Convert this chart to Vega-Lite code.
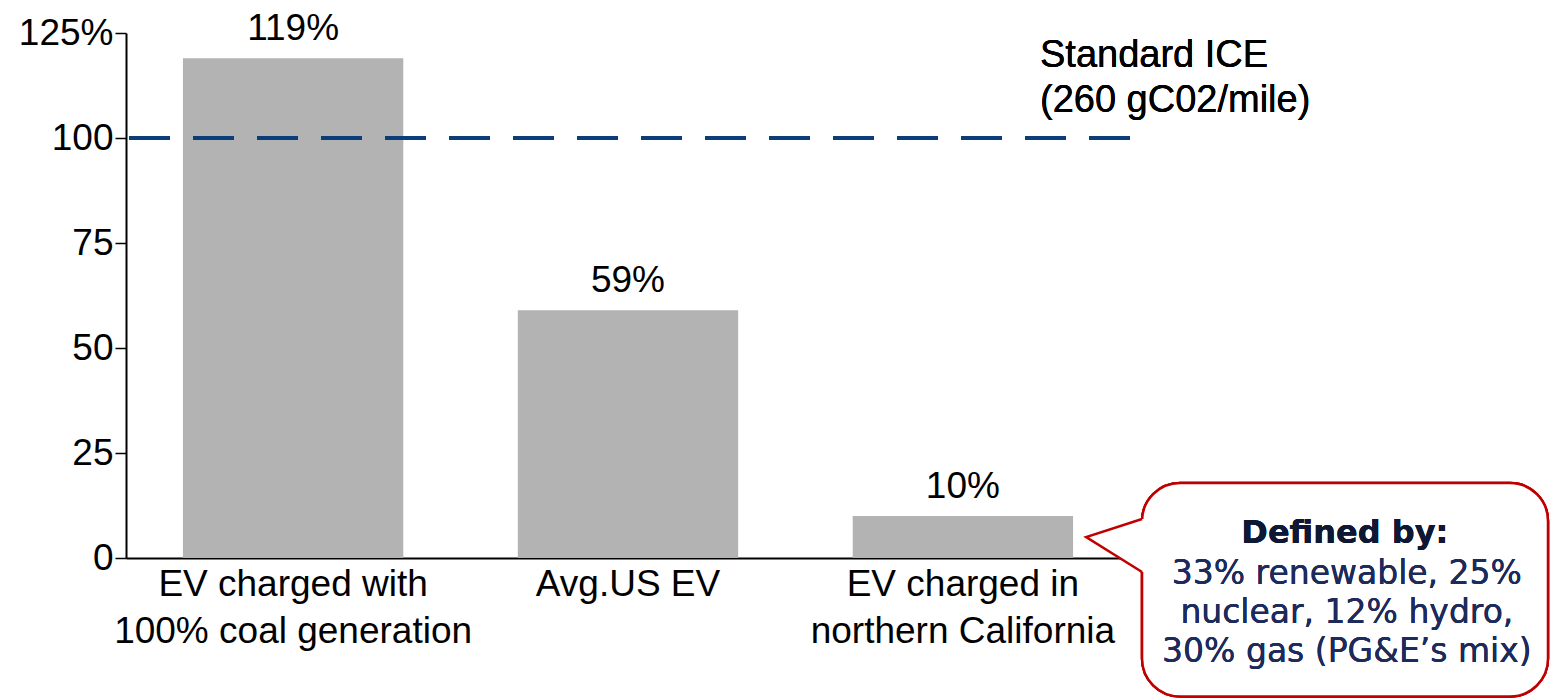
{
  "$schema": "https://vega.github.io/schema/vega-lite/v6.json",
  "width": 1004,
  "height": 525,
  "autosize": {"type": "none"},
  "padding": {"left": 126, "top": 33, "right": 421, "bottom": 141},
  "background": "white",
  "config": {"view": {"stroke": null}, "font": "Liberation Sans"},
  "data": {
    "values": [
      {"category": "EV charged with|100% coal generation", "value": 119, "label": "119%"},
      {"category": "Avg.US EV", "value": 59, "label": "59%"},
      {"category": "EV charged in|northern California", "value": 10, "label": "10%"}
    ]
  },
  "layer": [
    {
      "encoding": {
        "x": {
          "field": "category", "type": "nominal", "sort": null,
          "scale": {"paddingInner": 0.342, "paddingOuter": 0.17},
          "axis": {
            "title": null, "labelExpr": "split(datum.label, '|')", "labelAngle": 0,
            "labelFontSize": 37, "labelLineHeight": 47, "labelColor": "black",
            "labelFont": "Liberation Sans", "labelPadding": 8, "ticks": false, "labelLimit": 0,
            "domainColor": "black", "domainWidth": 2
          }
        },
        "y": {
          "field": "value", "type": "quantitative",
          "scale": {"domain": [0, 125], "nice": false},
          "axis": {
            "title": null, "values": [0, 25, 50, 75, 100, 125],
            "labelExpr": "datum.value == 125 ? '125%' : datum.label",
            "labelFontSize": 37, "labelColor": "black", "labelFont": "Liberation Sans",
            "tickSize": 11, "tickColor": "black", "tickWidth": 1.5,
            "domainColor": "black", "domainWidth": 2, "grid": false, "labelPadding": 2
          }
        }
      },
      "layer": [
        {"mark": {"type": "bar", "color": "#b3b3b3"}},
        {
          "mark": {"type": "text", "fontSize": 37, "dy": -18, "baseline": "alphabetic", "color": "black", "font": "Liberation Sans"},
          "encoding": {"text": {"field": "label"}}
        }
      ]
    },
    {
      "layer": [
        {
          "mark": {"type": "rule", "color": "#0b3d7a", "strokeWidth": 4, "strokeDash": [41, 23]},
          "encoding": {
            "y": {"datum": 100, "type": "quantitative", "scale": {"domain": [0, 125], "nice": false}, "axis": null}
          }
        },
        {
          "mark": {"type": "text", "text": ["Standard ICE", "(260 gC02/mile)"], "align": "left", "baseline": "alphabetic", "fontSize": 38, "lineHeight": 45, "color": "black", "font": "Liberation Sans"},
          "encoding": {
            "x": {"datum": 3.231, "type": "quantitative", "scale": {"domain": [0.5, 3.5], "nice": false, "zero": false}, "axis": null},
            "y": {"datum": 116.9, "type": "quantitative", "scale": {"domain": [0, 125], "nice": false}, "axis": null}
          }
        },
        {
          "mark": {"type": "rect", "fill": "white", "stroke": "#c00000", "strokeWidth": 2.5, "cornerRadius": 38},
          "encoding": {
            "x": {"datum": 3.536, "type": "quantitative", "scale": {"domain": [0.5, 3.5], "nice": false, "zero": false}, "axis": null},
            "x2": {"datum": 4.749},
            "y": {"datum": 17.86, "type": "quantitative", "scale": {"domain": [0, 125], "nice": false}, "axis": null},
            "y2": {"datum": -33}
          }
        },
        {
          "data": {
            "values": [
              {"px": 3.536, "py": 9.29, "o": 1},
              {"px": 3.369, "py": 5.0, "o": 2},
              {"px": 3.536, "py": -3.33, "o": 3}
            ]
          },
          "layer": [
            {
              "mark": {"type": "area", "orient": "horizontal", "color": "white", "opacity": 1},
              "encoding": {
                "x": {"field": "px", "type": "quantitative", "scale": {"domain": [0.5, 3.5], "nice": false, "zero": false}, "axis": null},
                "x2": {"datum": 3.547},
                "y": {"field": "py", "type": "quantitative", "scale": {"domain": [0, 125], "nice": false}, "axis": null}
              }
            },
            {
              "mark": {"type": "line", "color": "#c00000", "strokeWidth": 2.5},
              "encoding": {
                "x": {"field": "px", "type": "quantitative", "scale": {"domain": [0.5, 3.5], "nice": false, "zero": false}, "axis": null},
                "y": {"field": "py", "type": "quantitative", "scale": {"domain": [0, 125], "nice": false}, "axis": null},
                "order": {"field": "o"}
              }
            }
          ]
        },
        {
          "mark": {"type": "text", "text": "Defined by:", "font": "DejaVu Sans", "fontWeight": "bold", "fontSize": 32, "color": "#0e1733", "align": "center", "baseline": "alphabetic"},
          "encoding": {
            "x": {"datum": 4.142, "type": "quantitative", "scale": {"domain": [0.5, 3.5], "nice": false, "zero": false}, "axis": null},
            "y": {"datum": 3.57, "type": "quantitative", "scale": {"domain": [0, 125], "nice": false}, "axis": null}
          }
        },
        {
          "mark": {"type": "text", "text": ["33% renewable, 25%", "nuclear, 12% hydro,", "30% gas (PG&E’s mix)"], "font": "DejaVu Sans", "fontSize": 33, "lineHeight": 39, "color": "#1c2a5c", "align": "center", "baseline": "alphabetic"},
          "encoding": {
            "x": {"datum": 4.148, "type": "quantitative", "scale": {"domain": [0.5, 3.5], "nice": false, "zero": false}, "axis": null},
            "y": {"datum": -6.19, "type": "quantitative", "scale": {"domain": [0, 125], "nice": false}, "axis": null}
          }
        }
      ]
    }
  ],
  "resolve": {"scale": {"x": "independent"}, "axis": {"x": "independent", "y": "independent"}}
}
